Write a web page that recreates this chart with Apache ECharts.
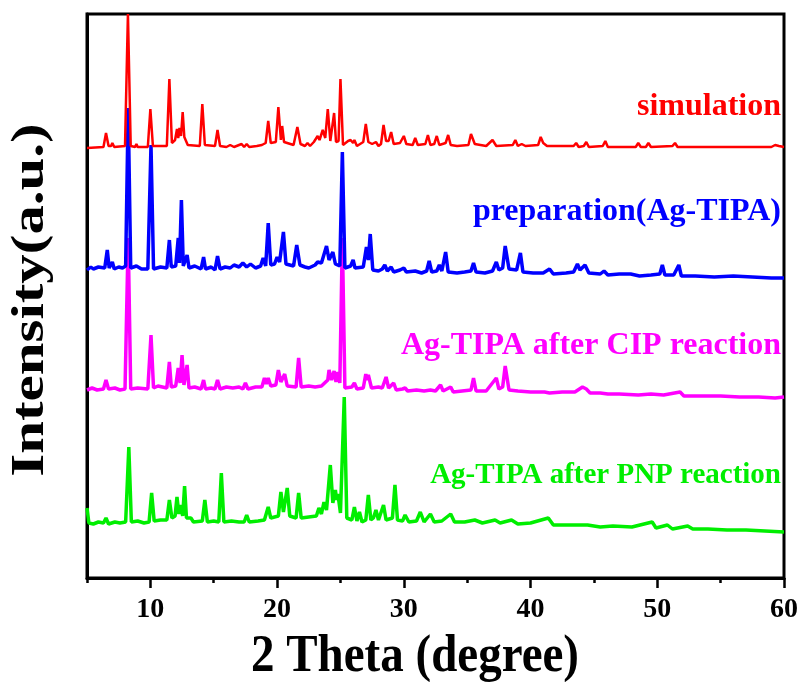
<!DOCTYPE html>
<html>
<head>
<meta charset="utf-8">
<script src="https://cdn.jsdelivr.net/npm/echarts@6/dist/echarts.min.js"></script>
<style>
html, body { margin: 0; padding: 0; background: #fff; }
#main { width: 802px; height: 682px; }
</style>
</head>
<body>
<div id="main"></div>
<script>
// XRD 图谱：四条曲线（纵向已叠加偏移，单位为任意强度）
const seriesNames = ['simulation', 'preparation(Ag-TIPA)', 'Ag-TIPA after CIP reaction', 'Ag-TIPA after PNP reaction'];
const seriesColors = ['#ff0000', '#0000ff', '#ff00ff', '#00ee00'];
const xTicks = [10, 20, 30, 40, 50, 60];

const simulation = [
    [5.0, 430], [6.3, 431], [6.5, 445], [6.7, 432], [6.9, 432], [7.0, 435], [7.15, 431], [8.0, 432],
    [8.23, 564], [8.45, 432], [8.8, 431], [8.9, 434], [9.0, 431], [9.8, 431], [10.0, 469], [10.2, 432],
    [11.3, 432], [11.5, 499], [11.7, 435], [11.95, 438], [12.1, 449], [12.2, 440], [12.3, 450], [12.42, 442],
    [12.55, 466], [12.68, 441], [12.8, 443], [12.95, 433], [13.9, 432], [14.1, 474], [14.3, 433], [15.1, 432],
    [15.3, 448], [15.5, 432], [16.0, 431], [16.3, 433], [16.6, 431], [17.0, 433], [17.2, 434], [17.4, 431],
    [17.6, 434], [17.8, 431], [18.4, 432], [18.8, 433], [19.1, 435], [19.3, 457], [19.5, 435], [19.9, 436],
    [20.1, 471], [20.3, 438], [20.4, 452], [20.55, 436], [21.3, 433], [21.6, 451], [21.85, 434], [22.2, 432],
    [22.4, 435], [22.6, 432], [22.9, 436], [23.2, 442], [23.35, 438], [23.6, 448], [23.8, 440], [24.0, 469],
    [24.2, 437], [24.3, 438], [24.5, 465], [24.65, 436], [24.85, 437], [25.0, 499], [25.2, 433], [25.6, 437],
    [25.8, 438], [26.0, 435], [26.1, 438], [26.3, 432], [26.8, 436], [27.0, 454], [27.2, 436], [27.5, 434],
    [27.8, 436], [28.0, 432], [28.2, 434], [28.4, 453], [28.6, 437], [28.8, 437], [29.0, 446], [29.2, 434],
    [29.7, 435], [30.0, 442], [30.2, 434], [30.7, 433], [30.9, 440], [31.1, 433], [31.7, 434], [31.9, 443],
    [32.1, 433], [32.4, 434], [32.6, 442], [32.8, 433], [33.3, 435], [33.5, 443], [33.7, 433], [34.2, 432],
    [35.1, 433], [35.3, 444], [35.6, 434], [36.5, 432], [37.0, 438], [37.3, 432], [38.6, 433], [38.8, 438],
    [39.0, 432], [39.3, 434], [39.6, 432], [40.6, 433], [40.8, 441], [41.0, 435], [41.3, 432], [43.4, 432],
    [43.6, 435], [43.8, 431], [44.2, 432], [44.4, 436], [44.6, 431], [45.7, 432], [45.9, 437], [46.1, 431],
    [48.3, 431], [48.5, 435], [48.7, 431], [49.1, 431], [49.3, 435], [49.5, 431], [51.2, 432], [51.4, 435],
    [51.6, 431], [55.0, 431], [59.0, 431], [59.3, 433], [59.6, 432], [60.0, 431]
];

const preparation = [
    [5.0, 308], [5.3, 311], [5.5, 309], [5.9, 311], [6.4, 310], [6.6, 328], [6.75, 310], [6.9, 311],
    [7.0, 316], [7.15, 309], [7.5, 311], [7.8, 310], [8.05, 312], [8.25, 470], [8.45, 310], [8.9, 312],
    [9.3, 309], [9.8, 309], [10.05, 433], [10.25, 309], [10.8, 311], [11.3, 310], [11.5, 338], [11.65, 311],
    [12.0, 312], [12.2, 340], [12.3, 315], [12.45, 378], [12.6, 312], [12.9, 323], [13.05, 310], [13.5, 312],
    [14.0, 309], [14.2, 321], [14.35, 309], [14.8, 311], [15.1, 308], [15.3, 322], [15.5, 309], [15.9, 311],
    [16.3, 310], [16.6, 313], [17.0, 311], [17.3, 315], [17.6, 311], [17.9, 314], [18.3, 310], [18.7, 312],
    [18.9, 320], [19.1, 312], [19.3, 355], [19.5, 313], [19.8, 314], [20.0, 321], [20.2, 316], [20.5, 346],
    [20.7, 314], [21.3, 312], [21.55, 333], [21.8, 313], [22.2, 311], [22.5, 310], [23.0, 313], [23.2, 316],
    [23.5, 315], [23.9, 332], [24.1, 318], [24.4, 326], [24.6, 314], [24.95, 312], [25.15, 426], [25.35, 310],
    [25.8, 312], [26.0, 318], [26.15, 310], [26.3, 312], [26.8, 311], [27.05, 331], [27.2, 318], [27.35, 344],
    [27.55, 308], [28.0, 307], [28.3, 309], [28.5, 313], [28.7, 307], [29.0, 311], [29.2, 306], [29.7, 308],
    [30.0, 310], [30.2, 306], [30.9, 307], [31.4, 305], [31.8, 307], [32.0, 317], [32.2, 306], [32.6, 307],
    [32.8, 313], [33.0, 307], [33.3, 326], [33.5, 306], [34.2, 305], [34.8, 306], [35.3, 307], [35.5, 315],
    [35.7, 306], [36.4, 305], [37.0, 307], [37.3, 316], [37.5, 308], [37.8, 310], [38.0, 332], [38.3, 309],
    [38.9, 308], [39.2, 325], [39.4, 306], [40.2, 305], [41.0, 305], [41.5, 309], [41.8, 304], [42.8, 305],
    [43.4, 306], [43.7, 314], [43.9, 308], [44.3, 313], [44.6, 305], [45.5, 304], [45.8, 307], [46.1, 303],
    [47.0, 304], [47.9, 304], [48.6, 302], [49.5, 303], [50.2, 304], [50.4, 313], [50.6, 303], [51.3, 303],
    [51.7, 313], [51.9, 302], [53.0, 302], [54.5, 301], [56.0, 302], [57.5, 301], [59.0, 300], [60.0, 300]
];

const afterCIP = [
    [5.0, 188], [5.4, 190], [5.8, 188], [6.3, 189], [6.5, 198], [6.7, 189], [7.2, 190], [7.6, 188],
    [8.0, 189], [8.25, 340], [8.45, 189], [9.0, 190], [9.8, 189], [10.05, 243], [10.25, 190], [10.6, 192],
    [11.3, 190], [11.5, 216], [11.65, 191], [12.0, 192], [12.2, 210], [12.35, 195], [12.5, 223], [12.65, 193],
    [12.9, 213], [13.05, 190], [13.5, 191], [14.0, 189], [14.2, 198], [14.35, 189], [14.8, 190], [15.1, 189],
    [15.3, 198], [15.5, 189], [16.0, 191], [16.5, 190], [17.0, 191], [17.3, 189], [17.5, 195], [17.7, 189],
    [18.3, 191], [18.8, 191], [19.0, 200], [19.15, 194], [19.3, 200], [19.5, 192], [19.9, 193], [20.1, 208],
    [20.3, 196], [20.6, 204], [20.8, 192], [21.5, 191], [21.7, 220], [21.9, 191], [22.5, 192], [23.0, 191],
    [23.5, 192], [24.0, 198], [24.1, 208], [24.3, 198], [24.5, 207], [24.65, 196], [24.8, 206], [24.95, 195],
    [25.15, 340], [25.35, 190], [25.9, 191], [26.1, 195], [26.3, 189], [26.8, 190], [27.0, 204], [27.1, 198],
    [27.2, 203], [27.45, 190], [28.0, 191], [28.3, 190], [28.6, 201], [28.8, 190], [29.2, 195], [29.4, 188],
    [29.9, 189], [30.1, 190], [30.3, 187], [31.0, 188], [31.6, 187], [32.1, 188], [32.5, 187], [32.9, 193],
    [33.1, 187], [33.7, 191], [33.9, 186], [34.6, 187], [35.3, 188], [35.5, 200], [35.7, 187], [36.5, 187],
    [37.3, 200], [37.5, 189], [37.8, 191], [38.0, 212], [38.3, 188], [39.0, 187], [40.0, 186], [41.1, 186],
    [41.5, 185], [42.5, 186], [43.5, 186], [44.1, 191], [44.4, 189], [44.7, 185], [45.5, 185], [46.1, 184],
    [47.0, 184], [48.5, 183], [49.5, 184], [50.5, 183], [51.8, 186], [52.1, 182], [53.5, 182], [55.0, 182],
    [56.5, 181], [58.0, 181], [59.3, 180], [60.0, 181]
];

const afterPNP = [
    [5.0, 70], [5.15, 55], [5.5, 54], [5.9, 56], [6.3, 55], [6.5, 60], [6.7, 54], [7.2, 56],
    [7.6, 55], [8.05, 56], [8.3, 131], [8.5, 56], [9.0, 57], [9.5, 55], [9.9, 56], [10.1, 85],
    [10.3, 57], [10.8, 58], [11.3, 58], [11.5, 78], [11.7, 60], [11.95, 62], [12.1, 81], [12.25, 64],
    [12.4, 73], [12.55, 62], [12.7, 92], [12.85, 60], [13.0, 58], [13.2, 60], [13.4, 56], [14.1, 57],
    [14.3, 78], [14.5, 56], [15.0, 57], [15.4, 56], [15.6, 105], [15.8, 56], [16.4, 57], [17.0, 56],
    [17.4, 56], [17.6, 63], [17.8, 56], [18.5, 57], [19.0, 58], [19.3, 71], [19.5, 60], [20.1, 62],
    [20.3, 86], [20.5, 66], [20.8, 90], [21.0, 62], [21.5, 60], [21.7, 85], [21.9, 60], [22.5, 61],
    [23.1, 62], [23.3, 70], [23.5, 64], [23.7, 76], [23.9, 68], [24.2, 113], [24.4, 75], [24.6, 88],
    [24.7, 78], [24.8, 84], [25.0, 65], [25.3, 181], [25.5, 60], [25.9, 58], [26.1, 71], [26.3, 57],
    [26.5, 66], [26.7, 56], [27.0, 58], [27.2, 83], [27.4, 58], [27.6, 60], [27.8, 68], [28.0, 58],
    [28.4, 73], [28.6, 58], [29.1, 60], [29.3, 93], [29.5, 58], [29.9, 57], [30.1, 63], [30.4, 56],
    [31.0, 57], [31.3, 66], [31.6, 56], [32.1, 64], [32.4, 56], [33.0, 57], [33.7, 64], [34.0, 56],
    [34.8, 56], [35.6, 58], [36.2, 55], [37.2, 58], [37.6, 55], [38.5, 58], [39.0, 54], [40.0, 55],
    [41.4, 60], [41.8, 53], [43.0, 53], [44.5, 53], [45.5, 51], [46.5, 52], [48.0, 51], [49.6, 56],
    [49.9, 50], [50.8, 53], [51.2, 49], [52.4, 52], [52.8, 49], [54.0, 49], [55.5, 48], [57.0, 48],
    [58.5, 47], [60.0, 46]
];

const labelFont = 'Liberation Serif, Times New Roman, serif';

let myChart = echarts.init(document.getElementById('main'));

let option = {
    backgroundColor: '#fff',
    animation: false,
    grid: {
        left: 87,
        right: 18,
        top: 14,
        bottom: 104,
        outerBoundsMode: 'none',
        show: true,
        borderColor: '#000',
        borderWidth: 3
    },
    xAxis: [
        {
            type: 'value',
            min: 5,
            max: 60,
            interval: 5,
            axisLine: { show: true, lineStyle: { color: '#000', width: 3 } },
            axisTick: { show: true, inside: false, length: 5, lineStyle: { color: '#000', width: 2.5 } },
            axisLabel: {
                margin: 18,
                fontFamily: labelFont,
                fontWeight: 'bold',
                fontSize: 28,
                color: '#000',
                formatter: function(v) {
                    return xTicks.indexOf(v) >= 0 ? String(v) : '';
                }
            },
            splitLine: { show: false }
        },
        {
            type: 'value',
            position: 'bottom',
            min: 5,
            max: 60,
            interval: 5,
            axisLine: { show: false },
            axisTick: {
                show: true,
                length: 10,
                customValues: xTicks,
                lineStyle: { color: '#000', width: 2.5 }
            },
            axisLabel: { show: false },
            splitLine: { show: false }
        }
    ],
    yAxis: {
        type: 'value',
        min: 0,
        max: 564,
        axisLine: { show: true, lineStyle: { color: '#000', width: 3 } },
        axisTick: { show: false },
        axisLabel: { show: false },
        splitLine: { show: false }
    },
    graphic: [
        {
            type: 'text', x: 415, y: 657, scaleY: 1.12,
            style: { text: '2 Theta (degree)', fill: '#000', font: 'bold 47px ' + labelFont, textAlign: 'center', textVerticalAlign: 'middle' }
        },
        {
            type: 'text', x: 31, y: 300, rotation: Math.PI / 2, scaleX: 1.28,
            style: { text: 'Intensity(a.u.)', fill: '#000', font: 'bold 46px ' + labelFont, textAlign: 'center', textVerticalAlign: 'middle' }
        },
        { type: 'text', x: 781, y: 107, style: { text: seriesNames[0], fill: seriesColors[0], font: 'bold 32px ' + labelFont, textAlign: 'right', textVerticalAlign: 'middle' } },
        { type: 'text', x: 781, y: 212, style: { text: seriesNames[1], fill: seriesColors[1], font: 'bold 32px ' + labelFont, textAlign: 'right', textVerticalAlign: 'middle' } },
        { type: 'text', x: 781, y: 346, style: { text: seriesNames[2], fill: seriesColors[2], font: 'bold 32px ' + labelFont, textAlign: 'right', textVerticalAlign: 'middle' } },
        { type: 'text', x: 781, y: 476, style: { text: seriesNames[3], fill: seriesColors[3], font: 'bold 29px ' + labelFont, textAlign: 'right', textVerticalAlign: 'middle' } }
    ],
    series: [
        { name: seriesNames[3], type: 'line', data: afterPNP, showSymbol: false, lineStyle: { color: seriesColors[3], width: 3.5 } },
        { name: seriesNames[2], type: 'line', data: afterCIP, showSymbol: false, lineStyle: { color: seriesColors[2], width: 3.5 } },
        { name: seriesNames[1], type: 'line', data: preparation, showSymbol: false, lineStyle: { color: seriesColors[1], width: 3.5 } },
        { name: seriesNames[0], type: 'line', data: simulation, showSymbol: false, lineStyle: { color: seriesColors[0], width: 2.5 } }
    ]
};

myChart.setOption(option);

window.addEventListener('resize', function() {
    myChart.resize();
});
</script>
</body>
</html>
